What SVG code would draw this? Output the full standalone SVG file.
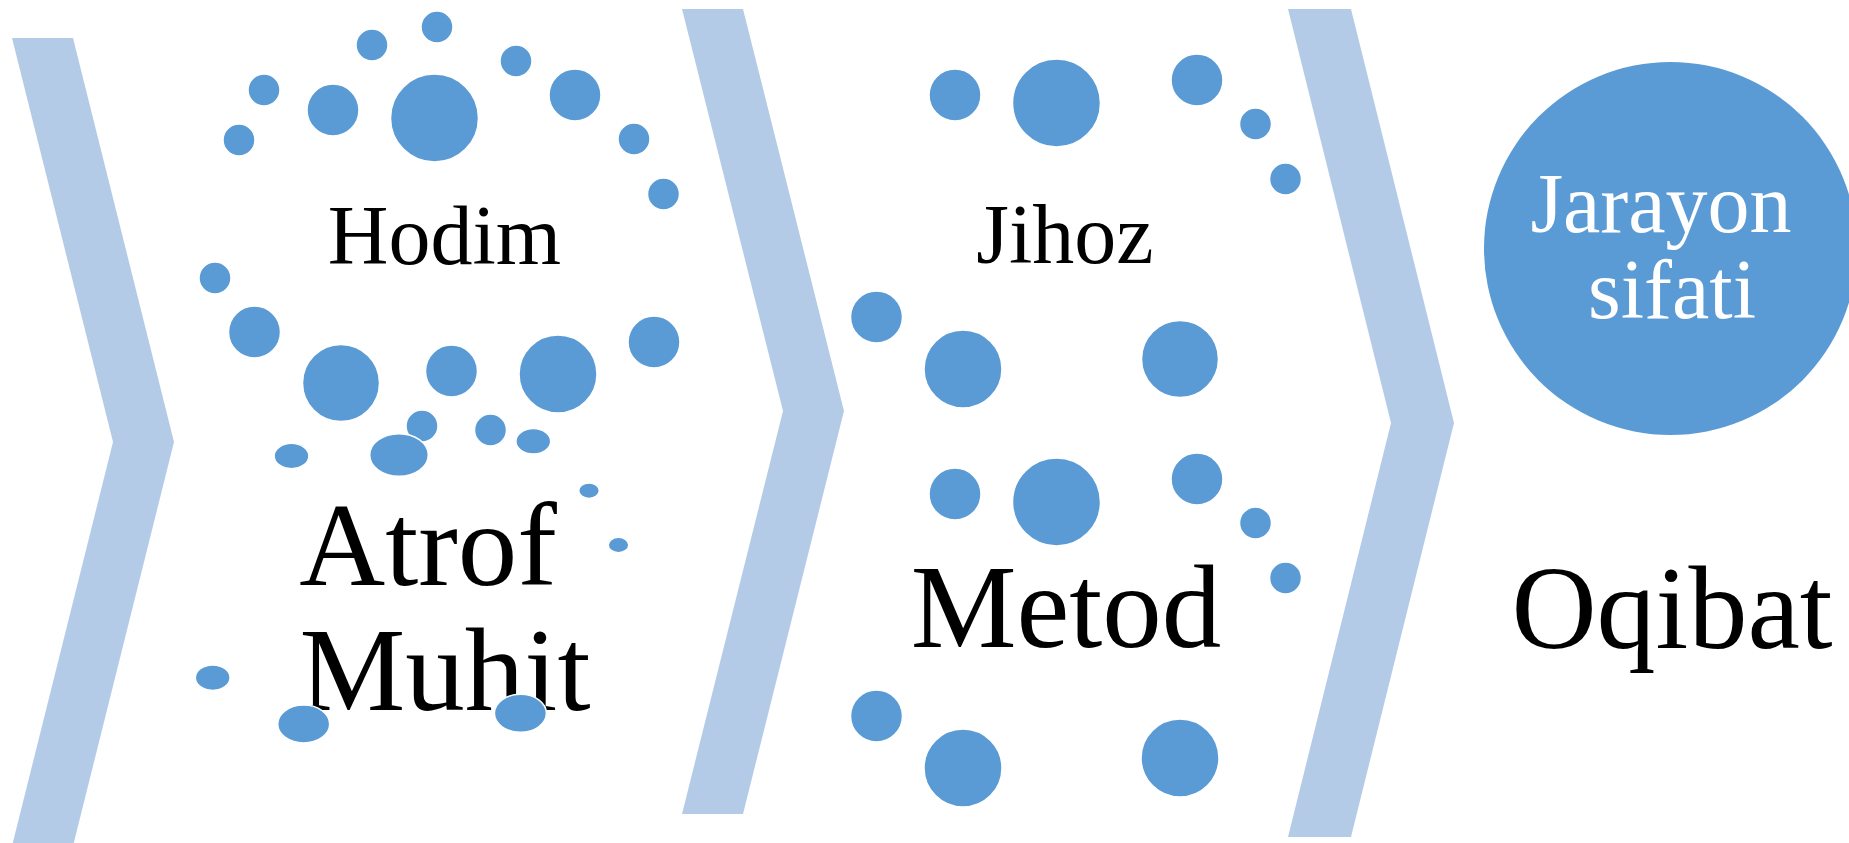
<svg xmlns="http://www.w3.org/2000/svg" width="1849" height="843" viewBox="0 0 1849 843">
  <style>
    .chev { fill: #B4CBE8; }
    .dot { fill: #5B9BD5; stroke: #FFFFFF; stroke-width: 1.5; }
    .lbl { font-family: "Liberation Serif", "Times New Roman", serif; fill: #000000; text-anchor: middle; }
    .lbl-w { font-family: "Liberation Serif", "Times New Roman", serif; fill: #FFFFFF; text-anchor: middle; }
  </style>
  <rect x="0" y="0" width="1849" height="843" fill="#FFFFFF"/>

  <!-- chevron separators between stages -->
  <g id="connectors">
    <polygon class="chev" points="12,38 73,38 174,442 73,846 12,846 113,442"/>
    <polygon class="chev" points="682,9 743,9 844,411 743,814 682,814 783,411"/>
    <polygon class="chev" points="1288,9 1351,9 1454,423 1351,837 1288,837 1391,423"/>
  </g>

  <!-- Hodim / Atrof Muhit stage -->
  <g id="node-hodim">
    <text class="lbl" x="444.5" y="264" font-size="84">Hodim</text>
    <circle class="dot" cx="437" cy="27" r="16"/>
    <circle class="dot" cx="372" cy="45" r="16"/>
    <circle class="dot" cx="516" cy="61" r="16"/>
    <circle class="dot" cx="264" cy="90" r="16"/>
    <circle class="dot" cx="333" cy="110" r="26"/>
    <circle class="dot" cx="434.5" cy="118" r="44"/>
    <circle class="dot" cx="575" cy="95" r="26"/>
    <circle class="dot" cx="239" cy="140" r="16"/>
    <circle class="dot" cx="634" cy="139" r="16"/>
    <circle class="dot" cx="663.5" cy="194" r="16"/>
    <circle class="dot" cx="215" cy="278" r="16"/>
    <circle class="dot" cx="254.5" cy="332" r="26"/>
    <circle class="dot" cx="341" cy="383" r="38.5"/>
    <circle class="dot" cx="451.5" cy="371" r="26"/>
    <circle class="dot" cx="558" cy="374" r="39"/>
    <circle class="dot" cx="654" cy="342" r="26"/>
  </g>

  <g id="node-atrof-muhit">
    <text class="lbl" font-size="119">
      <tspan x="443" y="585">Atrof</tspan>
      <tspan x="445" y="710">Muhit</tspan>
    </text>
    <circle class="dot" cx="422" cy="426" r="16"/>
    <circle class="dot" cx="490.5" cy="430" r="16"/>
    <ellipse class="dot" cx="291.5" cy="456" rx="17.4" ry="12.7"/>
    <ellipse class="dot" cx="399" cy="455" rx="29.3" ry="21.3"/>
    <ellipse class="dot" cx="533.3" cy="441.3" rx="17.4" ry="12.7"/>
    <ellipse class="dot" cx="589" cy="490.7" rx="10.3" ry="7.7"/>
    <ellipse class="dot" cx="618.5" cy="545" rx="10.3" ry="7.7"/>
    <ellipse class="dot" cx="212.7" cy="677.7" rx="17.4" ry="12.7"/>
    <ellipse class="dot" cx="303.7" cy="724" rx="26" ry="19"/>
    <ellipse class="dot" cx="520.4" cy="713.3" rx="26" ry="19"/>
  </g>

  <!-- Jihoz stage -->
  <g id="node-jihoz">
    <text class="lbl" x="1065" y="263" font-size="84">Jihoz</text>
    <circle class="dot" cx="955" cy="95" r="26"/>
    <circle class="dot" cx="1056.5" cy="103" r="44"/>
    <circle class="dot" cx="1197" cy="80" r="26"/>
    <circle class="dot" cx="1255.5" cy="124" r="16"/>
    <circle class="dot" cx="1285.5" cy="179" r="16"/>
    <circle class="dot" cx="876.5" cy="317" r="26"/>
    <circle class="dot" cx="963" cy="369" r="39"/>
    <circle class="dot" cx="1180" cy="359" r="38.5"/>
  </g>

  <!-- Metod stage -->
  <g id="node-metod">
    <text class="lbl" x="1066" y="647" font-size="119">Metod</text>
    <circle class="dot" cx="955" cy="494" r="26"/>
    <circle class="dot" cx="1056.5" cy="502" r="44"/>
    <circle class="dot" cx="1197" cy="479" r="26"/>
    <circle class="dot" cx="1255.5" cy="523" r="16"/>
    <circle class="dot" cx="1285.5" cy="578" r="16"/>
    <circle class="dot" cx="876.5" cy="716" r="26"/>
    <circle class="dot" cx="963" cy="768" r="39"/>
    <circle class="dot" cx="1180" cy="758" r="39"/>
  </g>

  <!-- outcome stage -->
  <g id="node-jarayon-sifati">
    <circle cx="1670.5" cy="248.5" r="186.5" fill="#5B9BD5"/>
    <text class="lbl-w" font-size="84">
      <tspan x="1671.5" y="232">Jarayon</tspan>
      <tspan x="1672" y="318">sifati</tspan>
    </text>
  </g>

  <g id="node-oqibat">
    <text class="lbl" x="1672" y="648" font-size="118">Oqibat</text>
  </g>
</svg>
